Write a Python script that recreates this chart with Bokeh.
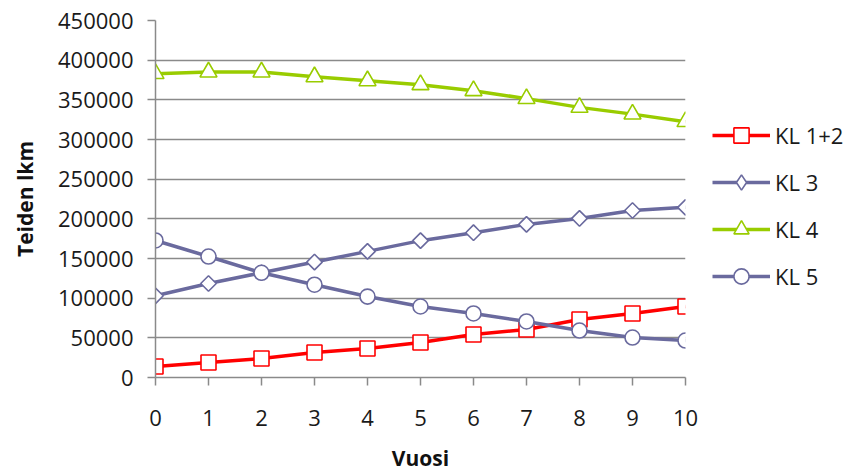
import numpy as np
from bokeh.plotting import figure
from bokeh.models import Range1d, FixedTicker, Legend, LegendItem
from bokeh.embed import file_html
from bokeh.resources import INLINE

years = [0, 1, 2, 3, 4, 5, 6, 7, 8, 9, 10]
kl12 = [13900, 18900, 23900, 31500, 36500, 44100, 54200, 60500, 73100, 80700, 89500]
kl3 = [103000, 118500, 132000, 145500, 159000, 172500, 182500, 193000, 200500, 210500, 214500]
kl4 = [383000, 385000, 385000, 379000, 374000, 369000, 361500, 351500, 340500, 332000, 322500]
kl5 = [172700, 152500, 132000, 117000, 102000, 89500, 80700, 70600, 59200, 50400, 46600]
y_ticks = [0, 50000, 100000, 150000, 200000, 250000, 300000, 350000, 400000, 450000]

FONT = "Open Sans"
GRID = "#8a8a8a"

p = figure(frame_width=530, frame_height=357, output_backend="svg", toolbar_location=None,
           min_border_left=155, min_border_right=161, min_border_top=20, min_border_bottom=95,
           x_range=Range1d(0, 10), y_range=Range1d(0, 450000))
p.outline_line_color = None
p.background_fill_color = "white"
p.border_fill_color = "white"

p.xgrid.grid_line_color = None
p.ygrid.grid_line_color = GRID
p.ygrid.grid_line_width = 1.5
p.ygrid.ticker = FixedTicker(ticks=y_ticks)

p.xaxis.ticker = FixedTicker(ticks=years)
p.yaxis.ticker = FixedTicker(ticks=y_ticks)
p.yaxis.formatter.use_scientific = False
for ax in (p.xaxis[0], p.yaxis[0]):
    ax.axis_line_color = GRID
    ax.axis_line_width = 1.5
    ax.major_tick_line_color = GRID
    ax.major_tick_line_width = 1.5
    ax.major_tick_in = 0
    ax.major_tick_out = 8
    ax.minor_tick_line_color = None
    ax.major_label_text_font = FONT
    ax.major_label_text_font_size = "22px"
    ax.major_label_text_color = "#1a1a1a"
    ax.axis_label_text_font = FONT
    ax.axis_label_text_font_size = "21px"
    ax.axis_label_text_font_style = "bold"
    ax.axis_label_text_color = "#111111"

p.xaxis.axis_label = "Vuosi"
p.yaxis.axis_label = "Teiden lkm"
p.xaxis.major_label_standoff = 24
p.yaxis.major_label_standoff = 14
p.xaxis.axis_label_standoff = 15
p.yaxis.axis_label_standoff = 16

series = [
    ("KL 1+2", kl12, "#ff0000", "square", 15, 0.0, "square"),
    ("KL 3", kl3, "#6a6a9e", "square", 11, np.pi / 4, "diamond"),
    ("KL 4", kl4, "#99cc00", "triangle", 17, 0.0, "triangle"),
    ("KL 5", kl5, "#6a6a9e", "circle", 15, 0.0, "circle"),
]

items = []
for name, vals, color, marker, size, ang, leg_marker in series:
    ln = p.line(years, vals, line_color=color, line_width=3.5)
    sc = p.scatter(years, vals, marker=marker, size=size, angle=ang,
                   fill_color="white", line_color=color, line_width=1.6)
    if leg_marker != marker:
        # legend-only marker (legend glyphs are never rotated); NaN point is not drawn
        sc = p.scatter([np.nan], [np.nan], marker=leg_marker, size=size,
                       fill_color="white", line_color=color, line_width=1.6)
    items.append(LegendItem(label=name, renderers=[ln, sc]))

legend = Legend(items=items, location=(27, 82), orientation="vertical",
                glyph_width=58, glyph_height=38, label_height=20, spacing=9,
                label_standoff=5, padding=0, margin=0,
                label_text_font=FONT, label_text_font_size="22px", label_text_color="#1a1a1a",
                background_fill_alpha=0, border_line_color=None)
p.add_layout(legend, "right")

open("out.html", "w").write(file_html(p, INLINE))
